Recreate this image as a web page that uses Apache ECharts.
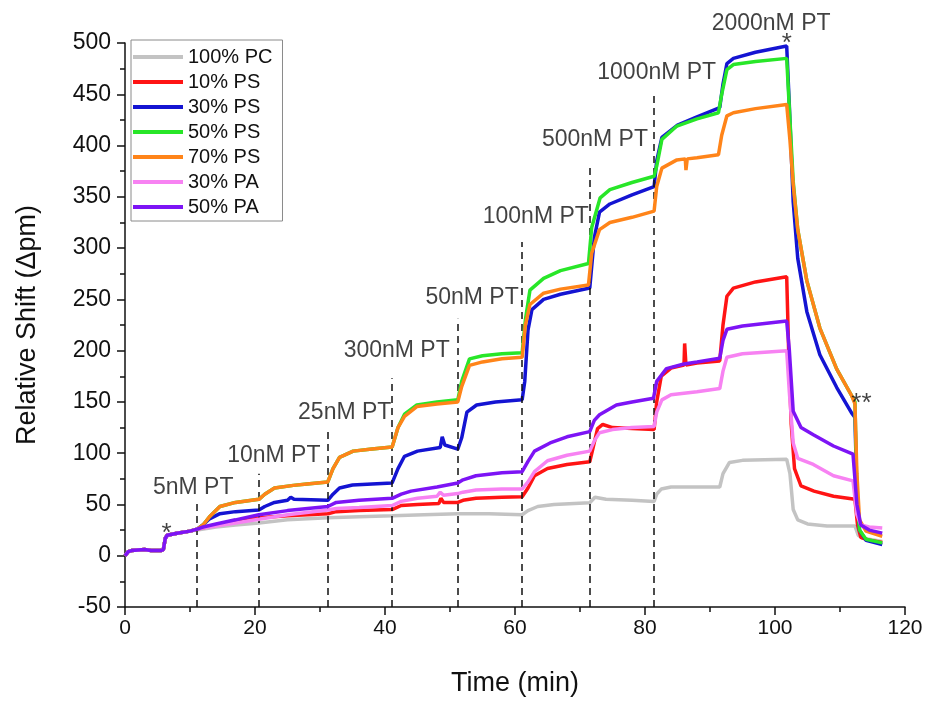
<!DOCTYPE html>
<html>
<head>
<meta charset="utf-8">
<script src="https://cdn.jsdelivr.net/npm/echarts@6/dist/echarts.min.js"></script>
<style>
html,body{margin:0;padding:0;background:#fff;}
#chart{width:928px;height:702px;}
</style>
</head>
<body>
<div id="chart"></div>
<script>
// ---------- DATA ----------
const seriesNames = ['100% PC','10% PS','30% PS','50% PS','70% PS','30% PA','50% PA'];
const seriesColors = ['#c3c3c3','#ff1414','#1414d2','#28e628','#ff8419','#f782f2','#7d14f5'];

const pc100 = [[0,0],[0.5,4],[1,5],[3,6],[4,5],[5.5,5],[5.9,6],[6.2,17],[6.5,20],[8,22],[10,24],[11.1,25],[14,28],[17,30],[20.6,32],[25,35],[31.2,37],[36,38],[41.1,39],[46,40],[51.2,41],[56,41],[61.1,40],[62,44],[63.5,48],[66,50],[71.5,51.6],[72.3,57],[74,55],[78,54],[81.4,53],[81.8,60],[82.5,65],[84,67],[91.5,67],[92,80],[93,91],[95,93],[101.8,94],[102.3,80],[102.8,45],[103.5,35],[105,31],[108,29],[112.3,29],[112.8,20],[113.5,17],[116.5,14]];

const ps10 = [[0,0],[0.5,4],[1,5],[3,6],[4,5],[5.5,5],[5.9,6],[6.2,17],[6.5,20],[8,22],[10,24],[11.1,26],[14,30],[17,33],[20.6,37],[25,39],[31.2,41],[32.5,43],[36,44],[41.1,45],[42.5,49],[45,50],[48.3,51],[48.6,56],[49,52],[51.2,52],[52,54],[54,56],[58,57],[61.1,57.4],[62,66],[63,78],[65,85],[68,89],[71.5,91.6],[72,105],[72.7,124],[73.5,128],[75,125],[78,124],[81.4,123],[81.8,150],[82.5,175],[84,183],[86,186],[86.1,207],[86.3,186],[88,188],[91.5,190],[92,225],[92.6,253],[93.6,261],[97,267],[101.8,272],[102.1,200],[102.5,128],[103,85],[104,68],[106,63],[109,58],[112.3,55],[112.7,30],[113.2,18],[114.5,15],[116.5,13]];

const ps30 = [[0,0],[0.5,4],[1,5],[3,6],[4,5],[5.5,5],[5.9,6],[6.2,17],[6.5,20],[8,22],[10,24],[11.1,26],[12,30],[13,36],[14.6,41],[17,43],[20.6,44.5],[21.5,48],[23,52],[25,54],[25.5,57],[26,55],[31.2,54],[32,60],[33,66],[35,69],[38,70],[41.1,71],[42,85],[43,97],[45,102],[48.5,105.6],[48.8,116],[49.2,108],[51.2,104],[51.8,115],[52.6,140],[54.1,147],[57,150],[61.1,152],[61.5,170],[62,220],[62.6,240],[64.4,250],[67,255],[71.5,261],[72.2,310],[73,335],[74.6,343],[78,352],[81.4,360],[81.8,385],[82.6,408],[85,420],[88,428],[91.5,437],[92,460],[92.6,480],[93.6,485],[97,491],[101.8,497],[102.2,440],[102.8,345],[103.5,290],[104.9,238],[106.9,196],[109.5,164],[111.8,139],[112.3,135],[112.6,60],[113,25],[114,15],[116.5,11]];

const ps50 = [[0,0],[0.5,4],[1,5],[3,6],[4,5],[5.5,5],[5.9,6],[6.2,17],[6.5,20],[8,22],[10,24],[11.1,26],[12,30],[13,38],[14.6,48],[17,52],[20.6,55],[21.5,60],[23,66],[25.9,68.6],[28,70],[31.2,72],[32,85],[33,96],[35.1,102],[38,104],[41.1,106],[42,125],[43,138],[44.9,147],[48,150],[51.2,152],[51.8,170],[53,192],[55,195],[58,197],[61.1,198],[61.6,230],[62.3,259],[64.4,270.5],[67,278],[71.3,285],[71.8,320],[73.1,349],[74.6,357],[78,364],[81.4,370],[81.8,380],[82.6,406],[84.9,419],[88,426],[91.3,432],[91.8,450],[92.6,474],[93.6,479],[97,482],[101.8,485],[102.3,425],[102.8,365],[103.5,318],[104.9,268],[106.9,222],[109.5,182],[111.8,156],[112.3,150],[112.6,60],[113,25],[114,16],[116.5,12.5]];

const ps70 = [[0,0],[0.5,4],[1,5],[3,6],[4,5],[5.5,5],[5.9,6],[6.2,17],[6.5,20],[8,22],[10,24],[11.1,26],[12,30],[13,38],[14.6,48],[17,52],[20.6,55],[21.5,60],[23,66],[25.9,68.6],[28,70],[31.2,72],[32,85],[33,96],[35.1,102],[38,104],[41.1,106],[42,125],[43,136],[44.9,145.5],[48,148],[51.2,150],[51.8,165],[53,185.6],[55,189],[58,192],[61.1,193.6],[61.6,225],[62.3,245],[64.4,256],[67,260],[71.3,264],[71.8,295],[73,318],[74.6,325],[78,330],[81.4,336],[81.8,360],[82.6,378],[84.9,386],[86.2,387],[86.3,376],[86.5,387],[88,388],[91.3,391],[91.8,410],[92.6,429],[93.6,432],[97,436],[101.8,440],[102.3,405],[102.8,362],[103.5,318],[104.9,268],[106.9,222],[109.5,182],[111.8,156],[112.3,148],[112.6,80],[113,35],[114,24],[116.5,19]];

const pa30 = [[0,0],[0.5,4],[1,5],[3,6],[4,5],[5.5,5],[5.9,6],[6.2,17],[6.5,20],[8,22],[10,24],[11.1,26],[12,27],[14,29],[17,32],[20.6,35.6],[25,40],[31.2,44.5],[32.5,46],[36,47],[41.1,49],[42.5,53],[45,56],[48,58],[48.5,62],[49,59],[51.2,60.6],[52,62],[54,64],[58,65],[61.1,65],[62,72],[63,82],[65,92.6],[68,98],[71.5,102],[72.2,112],[73,120],[75,123],[78,125],[81.4,126],[81.8,140],[82.6,152],[84,157],[88,160],[91.5,163],[92,180],[92.6,193.6],[95,197],[101.8,200],[102.2,160],[102.8,110],[103.5,95],[105.9,89],[109,78],[112,73],[112.6,40],[113.2,30],[114.5,28],[116.5,27]];

const pa50 = [[0,0],[0.5,4],[1,5],[3,6],[4,5],[5.5,5],[5.9,6],[6.2,17],[6.5,20],[8,22],[10,24],[11.1,26],[12,28],[14,31],[17,35],[20.6,40],[25,44],[31.2,48],[32.5,52],[36,54],[41.1,56],[42.5,60],[44,63],[48,67],[51.2,71],[52,74],[54,78],[58,81],[61.1,82],[62,92],[63,102],[65.4,110],[68,116],[71.5,121],[72.2,132],[73,137.5],[75.6,147],[78,150],[81.3,153.6],[81.8,170],[83.3,182.4],[86,187],[88,189],[91.5,192.6],[92,210],[92.6,220.8],[95,224],[101.8,228.8],[102.2,201],[102.8,141],[104,125],[105.9,118],[109,107],[112,99],[112.6,50],[113.2,30],[114.5,25],[116.5,22]];

const allSeries = [pc100, ps10, ps30, ps50, ps70, pa30, pa50];

// injection marks (time, top of dashed line) and their labels
const injectTimes = [11.1, 20.6, 31.2, 41.1, 51.2, 61.1, 71.5, 81.4, 91.5];
const dashTops   = [51, 80, 122, 173, 231, 306, 379, 452, 503];
const injectLabels = ['5nM PT','10nM PT','25nM PT','300nM PT','50nM PT','100nM PT','500nM PT','1000nM PT','2000nM PT'];
const labelX = [10.5, 22.9, 33.8, 41.8, 53.4, 63.2, 72.3, 81.8, 99.4];
const labelY = [66, 98, 140, 200, 252, 331, 406, 471, 519];

// asterisk annotations
const starText = ['*','*','**'];
const starX = [6.4, 101.8, 113.3];
const starY = [21, 499, 148];

const xTicks = {min:0, max:120, interval:20};
const yTicks = {min:-50, max:500, interval:50};

// ---------- CHART ----------
const FONT = '"Liberation Sans", Arial, sans-serif';
const chart = echarts.init(document.getElementById('chart'), null, {renderer:'canvas'});

const lineSeries = seriesNames.map((n,i)=>({
  name:n, type:'line', data: allSeries[i], showSymbol:false, symbol:'none',
  lineStyle:{width:3.5, color:seriesColors[i]}, itemStyle:{color:seriesColors[i]},
  z: 2+i, silent:true, animation:false
}));

const markData = injectTimes.map((t,i)=>[
  {coord:[t, yTicks.min]}, {coord:[t, dashTops[i]]}
]);

const option = {
  animation:false,
  backgroundColor:'#fff',
  textStyle:{fontFamily:FONT},
  grid:{left:125, right:23, top:43, bottom:86, containLabel:false},
  legend:{
    orient:'vertical', left:131, top:40,
    data: seriesNames.map(n=>({name:n, icon:'rect'})),
    itemWidth:50, itemHeight:4, itemGap:5,
    padding:[7,10,4,2],
    borderColor:'#8a8a8a', borderWidth:1,
    textStyle:{fontSize:20, color:'#111', fontFamily:FONT, lineHeight:20}
  },
  xAxis:{
    type:'value', min:xTicks.min, max:xTicks.max, interval:xTicks.interval,
    name:'Time (min)', nameLocation:'middle', nameGap:63,
    nameTextStyle:{fontSize:27, color:'#111', fontFamily:FONT},
    axisLine:{show:true, onZero:false, lineStyle:{color:'#111', width:1.5}},
    axisTick:{show:true, inside:false, length:8, lineStyle:{color:'#111', width:1.5}},
    minorTick:{show:true, splitNumber:2, length:5, lineStyle:{color:'#111', width:1.5}},
    axisLabel:{fontSize:21, color:'#111', margin:11, fontFamily:FONT},
    splitLine:{show:false}
  },
  yAxis:{
    type:'value', min:yTicks.min, max:yTicks.max, interval:yTicks.interval,
    name:'Relative Shift (\u0394pm)', nameLocation:'middle', nameGap:84, nameRotate:90,
    nameTextStyle:{fontSize:27, color:'#111', fontFamily:FONT},
    axisLine:{show:true, onZero:false, lineStyle:{color:'#111', width:1.5}},
    axisTick:{show:true, inside:false, length:8, lineStyle:{color:'#111', width:1.5}},
    minorTick:{show:true, splitNumber:2, length:5, lineStyle:{color:'#111', width:1.5}},
    axisLabel:{fontSize:23, color:'#111', margin:14, fontFamily:FONT},
    splitLine:{show:false}
  },
  series:[
    {
      type:'line', data:[], silent:true, z:1,
      markLine:{
        silent:true, symbol:['none','none'], animation:false,
        label:{show:false},
        lineStyle:{type:[7,5], color:'#111', width:1.5},
        emphasis:{disabled:true},
        data: markData
      }
    },
    ...lineSeries,
    {
      type:'scatter', silent:true, z:20, clip:false, symbolSize:0,
      data: injectLabels.map((s,i)=>[labelX[i], labelY[i], s]),
      label:{show:true, position:'inside', formatter:p=>p.data[2],
        fontSize:23, color:'#111', fontFamily:FONT}
    },
    {
      type:'scatter', silent:true, z:20, clip:false, symbolSize:0,
      data: starText.map((s,i)=>[starX[i], starY[i], s]),
      label:{show:true, position:'inside', formatter:p=>p.data[2],
        fontSize:26, color:'#111', fontFamily:FONT}
    }
  ]
};
chart.setOption(option);
</script>
</body>
</html>
